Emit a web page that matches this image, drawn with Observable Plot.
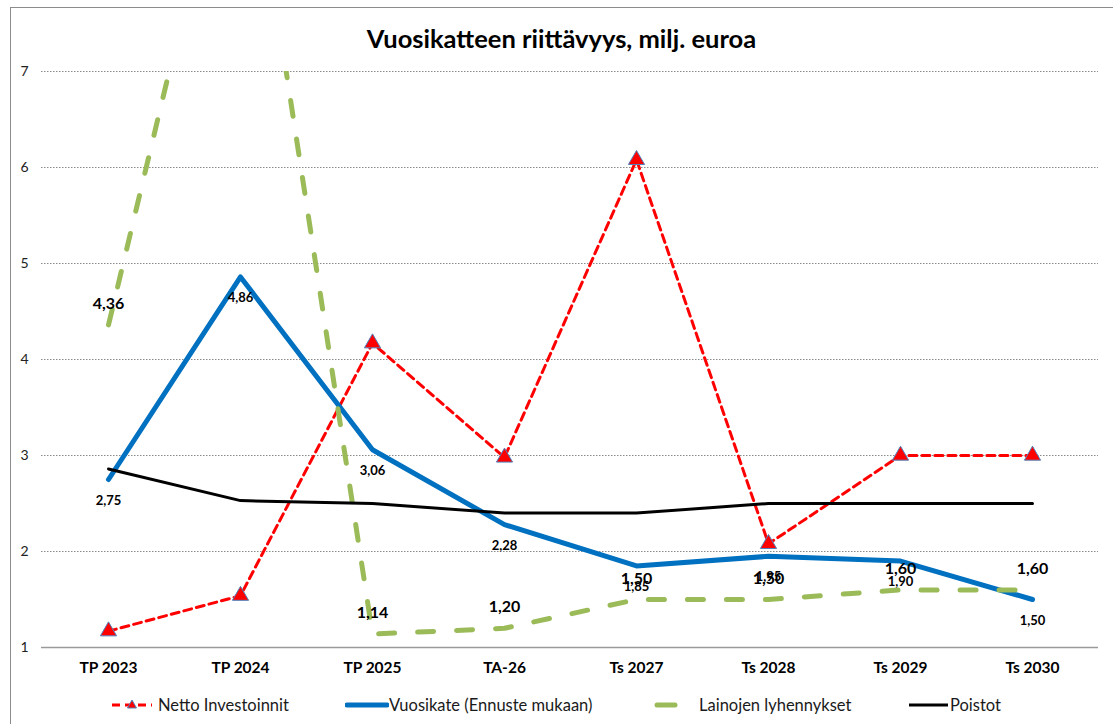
<!DOCTYPE html>
<html>
<head>
<meta charset="utf-8">
<script src="https://cdn.jsdelivr.net/npm/d3@7"></script>
<script src="https://cdn.jsdelivr.net/npm/@observablehq/plot@0.6"></script>
<style>
  html, body { margin: 0; padding: 0; background: #fff; }
  body { width: 1113px; height: 724px; position: relative; overflow: hidden; font-family: Lato, "Open Sans", sans-serif; }
  #frame { position: absolute; left: 10px; top: 7px; width: 1200px; height: 800px; border-top: 1.5px solid #8c8c8c; border-left: 1.5px solid #8c8c8c; }
  #title { position: absolute; left: 0; width: 1123px; top: 22px; text-align: center; font-weight: bold; font-size: 25.5px; color: #000; line-height: 32px; }
  #chart { position: absolute; left: 0; top: 55px; }
  .sw { position: absolute; top: 694px; }
  .sw svg { display: block; }
  .lt { position: absolute; top: 694px; height: 22px; line-height: 22px; font-size: 16.5px; color: #1a1a1a; white-space: nowrap; }
</style>
</head>
<body>
<div id="frame"></div>
<div id="title">Vuosikatteen riittävyys, milj. euroa</div>
<div id="chart"></div>
<div id="legend"></div>
<script>
const categories = ["TP 2023","TP 2024","TP 2025","TA-26","Ts 2027","Ts 2028","Ts 2029","Ts 2030"];
const nettoInvestoinnit = [1.17, 1.54, 4.17, 2.98, 6.08, 2.08, 3.00, 3.00];
const vuosikate = [2.75, 4.86, 3.06, 2.28, 1.85, 1.95, 1.90, 1.50];
const lainojenLyhennykset = [4.36, 10.1, 1.14, 1.20, 1.50, 1.50, 1.60, 1.60];
const poistot = [2.86, 2.53, 2.50, 2.40, 2.40, 2.50, 2.50, 2.50];
const yTicks = [1, 2, 3, 4, 5, 6, 7];
const seriesNames = ["Netto Investoinnit", "Vuosikate (Ennuste mukaan)", "Lainojen lyhennykset", "Poistot"];

const toRows = (vals) => categories.map((c, i) => ({cat: c, value: vals[i]}));
const netto = toRows(nettoInvestoinnit);
const vk = toRows(vuosikate);
const lainat = toRows(lainojenLyhennykset);
const poist = toRows(poistot);
const fmt = (v) => d3.format(".2f")(v).replace(".", ",");

const red = "#ff0000", blue = "#0070c0", green = "#9bbb59", black = "#000000", triStroke = "#4f81bd";

const chart = Plot.plot({
  width: 1113,
  height: 640,
  marginLeft: 41,
  marginRight: 15,
  marginTop: 16,
  marginBottom: 48,
  style: {fontFamily: "Lato, 'Open Sans', sans-serif", background: "transparent", color: "#000"},
  x: {type: "point", domain: categories, padding: 0.5, label: null},
  y: {domain: [1, 7], label: null},
  marks: [
    Plot.ruleY(yTicks.filter(d => d > 1), {stroke: "#8a8a8a", strokeWidth: 1, strokeDasharray: "1.5,1.5"}),
    Plot.ruleY([1], {stroke: "#9a9a9a", strokeWidth: 1.5}),
    Plot.axisX({tickSize: 0, tickPadding: 14, fontSize: 15.5, fontWeight: "bold", fill: "#000"}),
    Plot.axisY({ticks: yTicks, tickSize: 0, tickPadding: 13, fontSize: 14, fill: "#222", tickFormat: d => String(d)}),
    Plot.line(netto, {x: "cat", y: "value", stroke: red, strokeWidth: 3, strokeDasharray: "8,5", clip: true}),
    Plot.line(vk, {x: "cat", y: "value", stroke: blue, strokeWidth: 5, clip: true}),
    Plot.line(lainat, {x: "cat", y: "value", stroke: green, strokeWidth: 5, strokeDasharray: "16,23", strokeLinecap: "round", clip: true}),
    Plot.line(poist, {x: "cat", y: "value", stroke: black, strokeWidth: 3, clip: true}),
    Plot.dot(netto, {x: "cat", y: "value", symbol: "triangle", r: 6, fill: red, stroke: triStroke, strokeWidth: 1}),
    Plot.text(vk, {x: "cat", y: "value", text: d => fmt(d.value), dy: 21, fontSize: 13, fontWeight: "bold", fill: "#000"}),
    Plot.text(lainat.filter(d => d.value <= 7), {x: "cat", y: "value", text: d => fmt(d.value), dy: -21, fontSize: 16, fontWeight: "bold", fill: "#000"})
  ]
});
document.getElementById("chart").appendChild(chart);

// Legend
const legend = document.getElementById("legend");
const legItems = [
  {name: seriesNames[0], swLeft: 112, sw: 40, textLeft: 158, draw: () => `<line x1="0" x2="40" y1="11" y2="11" stroke="${red}" stroke-width="3" stroke-dasharray="8,5"/><path d="M20,6 L24.5,14 L15.5,14 Z" fill="${red}" stroke="${triStroke}" stroke-width="1"/>`},
  {name: seriesNames[1], swLeft: 345, sw: 44, textLeft: 389, draw: () => `<line x1="2" x2="42" y1="11" y2="11" stroke="${blue}" stroke-width="5" stroke-linecap="round"/>`},
  {name: seriesNames[2], swLeft: 654, sw: 24, textLeft: 699, draw: () => `<line x1="3" x2="21" y1="11" y2="11" stroke="${green}" stroke-width="5" stroke-linecap="round"/>`},
  {name: seriesNames[3], swLeft: 909, sw: 41, textLeft: 950, draw: () => `<line x1="0" x2="39" y1="11" y2="11" stroke="${black}" stroke-width="3"/>`}
];
for (const it of legItems) {
  const s = document.createElement("div");
  s.className = "sw";
  s.style.left = it.swLeft + "px";
  s.innerHTML = `<svg width="${it.sw}" height="22">${it.draw()}</svg>`;
  legend.appendChild(s);
  const t = document.createElement("div");
  t.className = "lt";
  t.style.left = it.textLeft + "px";
  t.textContent = it.name;
  legend.appendChild(t);
}
</script>
</body>
</html>
